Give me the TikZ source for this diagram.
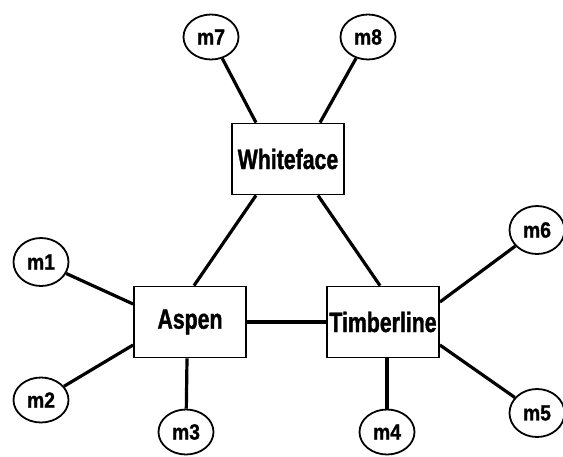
\documentclass[tikz,border=0pt]{standalone}
\usepackage{fontspec}
\usetikzlibrary{shapes.geometric}
\newfontfamily\bigf{Liberation Sans}[UprightFont={* Bold},FakeStretch=0.76,FakeBold=1.2]
\newfontfamily\smallf{Liberation Sans}[UprightFont={* Bold},FakeStretch=0.88,FakeBold=1.2]
\tikzset{
  host/.style={draw, line width=1.8pt, minimum width=112pt, minimum height=71pt, inner sep=0pt,
    font=\bigf\fontsize{28}{30}\selectfont},
  mach/.style={draw, ellipse, line width=1.8pt, minimum width=55pt, minimum height=45pt, inner sep=0pt,
    font=\smallf\fontsize{22}{24}\selectfont},
  link/.style={line width=3.2pt}
}
\begin{document}
\begin{tikzpicture}[x=1pt,y=-1pt]
\useasboundingbox[fill=white] (0,0) rectangle (563,456);
\node[host] (wf) at (288,159) {Whiteface};
\node[host] (asp) at (190,322) {Aspen};
\node[host] (tim) at (383,322) {Timberline};
\node[mach] (m7) at (211,37) {m7};
\node[mach] (m8) at (368,37) {m8};
\node[mach, minimum height=48pt] (m1) at (41,262) {m1};
\node[mach] (m2) at (41,400) {m2};
\node[mach] (m3) at (186,432) {m3};
\node[mach] (m4) at (387,432) {m4};
\node[mach, minimum height=48pt] (m5) at (537,413) {m5};
\node[mach, minimum height=48pt] (m6) at (537,230) {m6};
\draw[link] (m7) -- ([xshift=-32pt]wf.north);
\draw[link] (m8) -- ([xshift=32pt]wf.north);
\draw[link] ([xshift=-32pt]wf.south) -- ([xshift=4pt]asp.north);
\draw[link] ([xshift=30pt]wf.south) -- ([xshift=-3pt]tim.north);
\draw[link] (asp.east) -- (tim.west);
\draw[link] (m1) -- ([yshift=18pt]asp.west);
\draw[link] (m2) -- ([yshift=-23pt]asp.west);
\draw[link] (m3) -- ([xshift=-3pt]asp.south);
\draw[link] (m4) -- ([xshift=4pt]tim.south);
\draw[link] (m5) -- ([yshift=-23pt]tim.east);
\draw[link] (m6) -- ([yshift=20pt]tim.east);
\end{tikzpicture}
\end{document}
